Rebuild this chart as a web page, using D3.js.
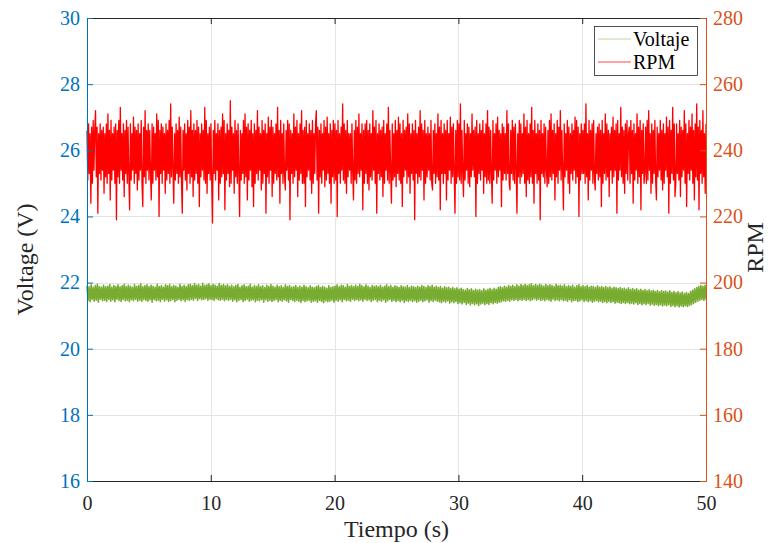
<!DOCTYPE html>
<html>
<head>
<meta charset="utf-8">
<script src="https://cdn.jsdelivr.net/npm/d3@7/dist/d3.min.js"></script>
<style>
  html, body { margin: 0; padding: 0; background: #ffffff; }
  svg { display: block; }
  svg text, svg .tick text { font-family: "Liberation Serif", "Times New Roman", serif !important; }
</style>
</head>
<body>
<svg id="chart" width="772" height="543"></svg>
<script>
// ---------------- DATA ----------------
const timeRange = [0, 50];           // Tiempo (s)
const voltageTicks = [16, 18, 20, 22, 24, 26, 28, 30];
const rpmTicks = [140, 160, 180, 200, 220, 240, 260, 280];
const timeTicks = [0, 10, 20, 30, 40, 50];
const seriesNames = ["Voltaje", "RPM"];

// Voltage samples (V), evenly spaced over 0–50 s
const voltage = [
21.90,21.46,21.87,21.42,21.93,21.49,21.86,21.44,21.91,21.47,21.95,21.41,21.88,21.50,21.86,21.45,21.92,21.47,21.87,21.43,
21.89,21.49,21.94,21.44,21.86,21.48,21.91,21.42,21.88,21.50,21.93,21.46,21.87,21.43,21.90,21.49,21.95,21.45,21.88,21.47,
21.92,21.42,21.89,21.48,21.86,21.45,21.94,21.50,21.88,21.44,21.91,21.47,21.96,21.43,21.87,21.49,21.90,21.46,21.93,21.44,
21.87,21.48,21.92,21.41,21.89,21.49,21.86,21.45,21.95,21.47,21.88,21.42,21.91,21.50,21.86,21.44,21.93,21.48,21.90,21.43,
21.94,21.46,21.87,21.49,21.91,21.42,21.89,21.47,21.86,21.50,21.95,21.45,21.88,21.48,21.92,21.43,21.87,21.49,21.93,21.46,
21.95,21.50,21.90,21.47,21.97,21.52,21.92,21.46,21.94,21.51,21.89,21.48,21.98,21.49,21.91,21.52,21.93,21.47,21.96,21.50,
21.90,21.49,21.95,21.46,21.92,21.51,21.89,21.48,21.97,21.47,21.91,21.50,21.94,21.45,21.90,21.49,21.93,21.47,21.88,21.50,
21.92,21.44,21.87,21.48,21.91,21.42,21.94,21.47,21.86,21.49,21.90,21.43,21.93,21.46,21.87,21.50,21.89,21.44,21.95,21.47,
21.86,21.48,21.91,21.42,21.88,21.47,21.93,21.45,21.87,21.49,21.90,21.41,21.85,21.48,21.92,21.44,21.88,21.47,21.94,21.43,
21.89,21.46,21.86,21.49,21.92,21.42,21.87,21.47,21.90,21.44,21.85,21.48,21.93,21.45,21.88,21.41,21.91,21.49,21.86,21.46,
21.87,21.43,21.91,21.47,21.85,21.44,21.89,21.40,21.86,21.46,21.92,21.42,21.87,21.45,21.84,21.47,21.90,21.41,21.86,21.44,
21.84,21.45,21.88,21.41,21.91,21.46,21.85,21.43,21.89,21.39,21.86,21.45,21.83,21.42,21.90,21.44,21.85,21.47,21.87,21.41,
21.89,21.47,21.93,21.44,21.87,21.48,21.92,21.42,21.90,21.49,21.86,21.45,21.94,21.47,21.88,21.43,21.91,21.50,21.87,21.46,
21.92,21.49,21.88,21.45,21.95,21.48,21.90,21.44,21.87,21.50,21.93,21.46,21.89,21.48,21.85,21.43,21.91,21.47,21.88,21.49,
21.90,21.42,21.87,21.47,21.92,21.44,21.86,21.48,21.89,21.41,21.93,21.45,21.87,21.49,21.91,21.43,21.85,21.47,21.90,21.42,
21.88,21.46,21.85,21.42,21.90,21.47,21.87,21.40,21.86,21.45,21.91,21.43,21.84,21.47,21.89,21.42,21.87,21.46,21.85,21.41,
21.89,21.44,21.86,21.47,21.91,21.42,21.88,21.45,21.85,21.48,21.90,21.41,21.87,21.46,21.92,21.43,21.86,21.47,21.89,21.44,
21.85,21.42,21.88,21.39,21.83,21.44,21.87,21.41,21.84,21.45,21.86,21.38,21.82,21.42,21.85,21.39,21.81,21.43,21.84,21.37,
21.80,21.39,21.83,21.35,21.79,21.40,21.77,21.34,21.82,21.38,21.78,21.32,21.81,21.37,21.76,21.33,21.80,21.36,21.77,21.31,
21.79,21.35,21.75,21.38,21.81,21.33,21.77,21.37,21.80,21.34,21.82,21.39,21.78,21.36,21.83,21.40,21.80,21.38,21.85,21.41,
21.87,21.42,21.84,21.45,21.89,21.43,21.86,21.47,21.91,21.44,21.88,21.48,21.92,21.46,21.87,21.49,21.93,21.45,21.89,21.48,
21.94,21.47,21.90,21.50,21.95,21.46,21.91,21.49,21.93,21.45,21.96,21.48,21.90,21.51,21.94,21.47,21.91,21.50,21.95,21.46,
21.92,21.48,21.89,21.45,21.94,21.49,21.90,21.47,21.93,21.44,21.91,21.50,21.88,21.46,21.95,21.48,21.90,21.45,21.92,21.49,
21.89,21.45,21.93,21.47,21.87,21.44,21.91,21.48,21.88,21.42,21.92,21.46,21.86,21.47,21.90,21.43,21.93,21.45,21.87,21.48,
21.90,21.43,21.87,21.46,21.91,21.42,21.86,21.45,21.89,21.41,21.88,21.44,21.85,21.46,21.90,21.42,21.86,21.44,21.88,21.40,
21.85,21.42,21.88,21.39,21.84,21.43,21.87,21.40,21.83,21.42,21.86,21.38,21.84,21.41,21.82,21.39,21.85,21.37,21.81,21.40,
21.83,21.37,21.80,21.40,21.84,21.36,21.79,21.38,21.82,21.35,21.78,21.39,21.81,21.34,21.77,21.37,21.80,21.33,21.76,21.36,
21.79,21.34,21.75,21.37,21.78,21.32,21.74,21.35,21.77,21.31,21.73,21.34,21.76,21.30,21.72,21.33,21.75,21.29,21.73,21.32,
21.74,21.30,21.71,21.33,21.75,21.28,21.70,21.31,21.73,21.27,21.69,21.30,21.72,21.26,21.68,21.29,21.71,21.27,21.67,21.30,
21.70,21.28,21.67,21.31,21.73,21.33,21.77,21.37,21.81,21.41,21.85,21.44,21.88,21.47,21.91,21.49,21.89,21.46,21.92,21.48
];

// RPM samples, evenly spaced over 0–50 s
const rpm = [
246,231,248,233,245,224,247,230,249,234,246,252,232,247,221,245,233,248,231,246,
234,247,227,245,232,248,230,251,233,246,225,249,231,245,234,247,230,248,219,246,
232,249,230,253,234,245,231,248,226,246,233,249,230,247,232,222,248,231,245,234,
250,230,247,233,246,228,248,231,245,234,249,230,223,247,232,252,230,246,234,248,
231,246,233,225,248,230,247,234,245,231,251,232,249,220,246,233,248,230,247,234,
245,227,248,231,246,233,249,230,254,232,247,234,224,245,231,248,233,246,230,250,
232,247,230,221,246,234,248,231,245,228,249,233,247,230,252,232,246,226,248,231,
246,233,249,230,247,223,245,232,248,234,246,231,253,230,249,227,245,233,247,231,
248,230,218,246,233,249,231,245,234,248,225,246,230,247,232,251,233,249,222,245,
231,248,233,246,229,255,230,247,234,245,227,249,232,246,230,248,233,220,246,231,
245,233,249,230,251,232,247,225,248,231,246,234,249,229,245,223,248,230,246,233,
252,231,247,234,245,228,249,230,246,233,248,221,245,232,250,230,247,234,249,226,
247,230,245,233,248,231,253,232,246,224,249,233,245,230,248,232,228,246,234,249,
231,248,219,246,233,245,230,251,232,247,234,249,226,245,231,248,233,252,230,246,
230,247,223,249,232,245,234,248,231,246,227,249,230,245,233,248,252,231,247,221,
246,232,248,230,245,234,249,229,247,231,250,233,245,230,248,224,246,232,249,230,
248,231,246,220,249,233,245,230,247,234,254,231,248,230,246,227,249,232,245,234,
245,230,248,233,225,246,231,249,230,247,233,251,232,245,234,248,222,246,230,248,
233,249,230,246,228,248,232,245,231,252,234,247,230,249,221,245,233,248,231,246,
232,247,226,249,230,245,234,248,231,253,230,246,233,224,248,231,245,232,249,229,
246,233,250,231,248,230,245,223,249,232,246,234,247,230,251,232,248,227,245,233,
248,231,246,219,249,233,245,230,247,232,252,231,248,234,246,225,249,230,245,232,
247,234,245,231,249,230,228,246,233,248,230,245,232,251,231,247,222,249,233,245,
230,248,233,246,225,249,231,245,234,250,230,247,232,248,233,221,246,230,249,232,
248,231,254,230,246,233,226,249,231,245,234,248,230,247,229,245,232,251,234,246,
232,247,220,249,230,245,233,248,231,246,234,249,227,245,232,248,230,252,231,247,
230,246,233,224,249,231,245,234,248,230,250,232,246,234,245,223,248,231,247,233,
245,231,252,233,248,230,228,246,233,249,231,247,230,248,234,221,245,232,249,230,
248,232,245,233,251,230,247,226,249,231,245,230,248,232,253,230,246,224,249,233,
245,230,248,231,246,219,249,233,245,232,248,230,247,234,229,246,230,249,232,251,
231,246,233,248,225,245,232,249,230,247,234,252,231,246,233,222,248,232,245,234,
249,230,247,227,245,233,248,231,246,234,250,230,249,232,247,220,245,231,248,233,
246,233,248,230,254,232,245,225,249,231,246,234,248,230,249,232,228,245,233,247,
231,248,232,246,223,249,230,245,233,251,231,248,232,246,226,245,234,247,230,250,
232,246,234,248,221,249,231,245,234,253,232,247,230,246,227,248,233,249,231,245,
247,230,249,233,246,224,248,231,245,234,251,230,247,232,249,222,246,233,248,230,
233,247,230,249,231,252,234,245,227,248,230,246,233,249,231,225,247,232,245,234,
249,231,246,228,248,230,245,234,250,232,247,221,249,230,246,233,253,231,248,226,
230,248,233,245,231,249,226,247,232,246,234,252,230,248,223,245,233,249,231,247,
234,251,230,246,225,248,232,254,231,247,222,249,233,246,230,252,232,245,227,248
];

// ---------------- CHART ----------------
const M = { left: 87, right: 706, top: 18, bottom: 481 };
const colLeft = "#0072BD", colRight = "#D95319", colAxis = "#262626";
const colVolt = "#77AC30", colRpm = "#FF0000";

const svg = d3.select("#chart");

const x = d3.scaleLinear().domain(timeRange).range([M.left, M.right]);
const yL = d3.scaleLinear().domain([voltageTicks[0], voltageTicks[voltageTicks.length - 1]]).range([M.bottom, M.top]);
const yR = d3.scaleLinear().domain([rpmTicks[0], rpmTicks[rpmTicks.length - 1]]).range([M.bottom, M.top]);

// grid
const grid = svg.append("g").attr("stroke", "#e4e4e4").attr("stroke-width", 1);
grid.selectAll("line.gx").data(timeTicks.slice(1, -1)).join("line")
  .attr("x1", d => Math.round(x(d)) + 0.5).attr("x2", d => Math.round(x(d)) + 0.5)
  .attr("y1", M.top).attr("y2", M.bottom);
grid.selectAll("line.gy").data(voltageTicks.slice(1, -1)).join("line")
  .attr("y1", d => Math.round(yL(d)) + 0.5).attr("y2", d => Math.round(yL(d)) + 0.5)
  .attr("x1", M.left).attr("x2", M.right);

// lines
const plot = svg.append("g");
const voltLine = d3.line()
  .x((d, i) => x(timeRange[0] + i * (timeRange[1] - timeRange[0]) / (voltage.length - 1)))
  .y(d => yL(d));
const rpmLine = d3.line()
  .x((d, i) => x(timeRange[0] + i * (timeRange[1] - timeRange[0]) / (rpm.length - 1)))
  .y(d => yR(d));

plot.append("path").datum(voltage).attr("d", voltLine)
  .attr("fill", "none").attr("stroke", colVolt).attr("stroke-width", 1.6)
  .attr("stroke-linejoin", "round");
plot.append("path").datum(rpm).attr("d", rpmLine)
  .attr("fill", "none").attr("stroke", colRpm).attr("stroke-width", 1.3)
  .attr("stroke-linejoin", "round");

// axes
function styleAxis(g, color) {
  g.attr("font-family", "Liberation Serif").attr("font-size", 20);
  g.select(".domain").attr("stroke", color).attr("stroke-width", 1);
  g.selectAll(".tick line").attr("stroke", color).attr("stroke-width", 1);
  g.selectAll(".tick text").attr("fill", color).attr("font-family", "Liberation Serif").attr("font-size", 20);
}

const gBottom = svg.append("g").attr("transform", `translate(0,${M.bottom})`)
  .call(d3.axisBottom(x).tickValues(timeTicks).tickSizeInner(-6).tickSizeOuter(0).tickPadding(15));
styleAxis(gBottom, colAxis);

const gTop = svg.append("g").attr("transform", `translate(0,${M.top})`)
  .call(d3.axisTop(x).tickValues(timeTicks).tickSizeInner(-6).tickSizeOuter(0).tickFormat(""));
styleAxis(gTop, colAxis);

const gLeft = svg.append("g").attr("transform", `translate(${M.left},0)`)
  .call(d3.axisLeft(yL).tickValues(voltageTicks).tickSizeInner(-6).tickSizeOuter(0).tickPadding(7));
styleAxis(gLeft, colLeft);

const gRight = svg.append("g").attr("transform", `translate(${M.right},0)`)
  .call(d3.axisRight(yR).tickValues(rpmTicks).tickSizeInner(-6).tickSizeOuter(0).tickPadding(7));
styleAxis(gRight, colRight);

// axis labels
svg.append("text").attr("x", (M.left + M.right) / 2).attr("y", 537)
  .attr("text-anchor", "middle").attr("fill", colAxis).attr("font-size", 24)
  .text("Tiempo (s)");
svg.append("text").attr("transform", `translate(33,${(M.top + M.bottom) / 2 + 10}) rotate(-90)`)
  .attr("text-anchor", "middle").attr("fill", colAxis).attr("font-size", 24)
  .text("Voltage (V)");
svg.append("text").attr("transform", `translate(763,${(M.top + M.bottom) / 2 - 2}) rotate(-90)`)
  .attr("text-anchor", "middle").attr("fill", colAxis).attr("font-size", 24)
  .text("RPM");

// legend
const leg = svg.append("g");
leg.append("rect").attr("x", 594.5).attr("y", 26.5).attr("width", 103).attr("height", 49)
  .attr("fill", "#ffffff").attr("stroke", colAxis).attr("stroke-width", 0.8);
const legColors = [colVolt, colRpm];
seriesNames.forEach((name, i) => {
  const yy = 39 + i * 23;
  leg.append("line").attr("x1", 598).attr("x2", 631).attr("y1", yy).attr("y2", yy)
    .attr("stroke", legColors[i]).attr("stroke-width", 0.8).attr("opacity", i === 0 ? 0.6 : 0.9);
  leg.append("text").attr("x", 633).attr("y", yy + 7).attr("fill", "#000")
    .attr("font-size", 20).text(name);
});
</script>
</body>
</html>
